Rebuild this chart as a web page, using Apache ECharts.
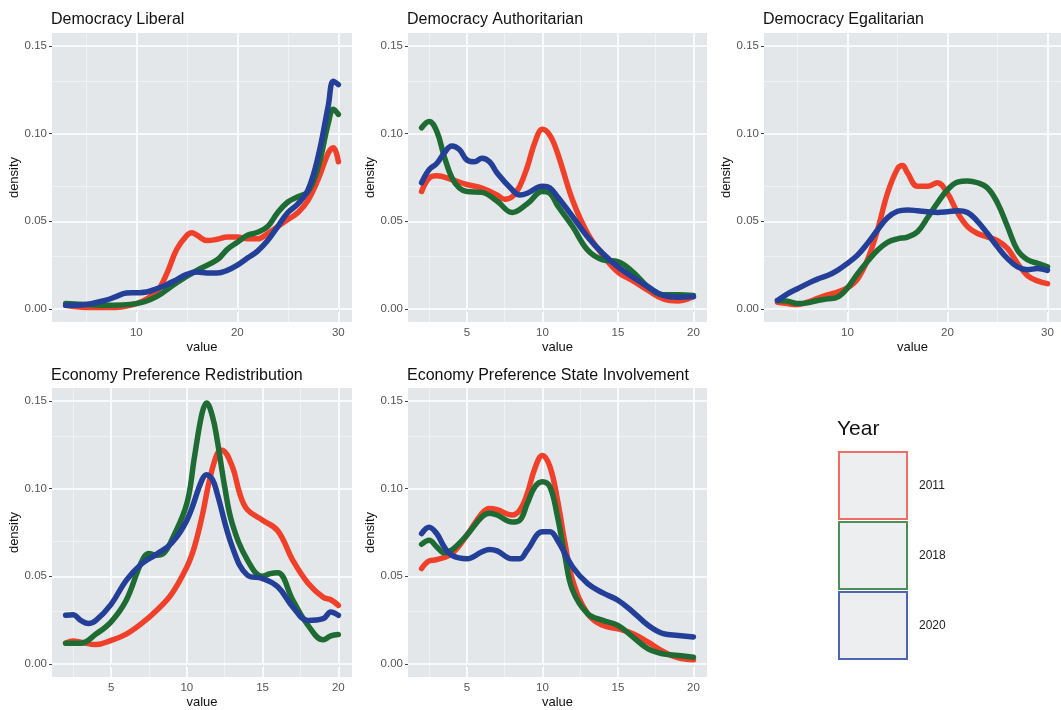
<!DOCTYPE html>
<html>
<head>
<meta charset="utf-8">
<script src="https://cdn.jsdelivr.net/npm/echarts@6/dist/echarts.min.js"></script>
<style>
html,body{margin:0;padding:0;background:#fff;}
#chart{width:1061px;height:710px;}
</style>
</head>
<body>
<div id="chart"></div>
<script>
// ---- Data ----
const years = ['2011', '2018', '2020'];
const panelTitles = ['Democracy Liberal', 'Democracy Authoritarian', 'Democracy Egalitarian',
  'Economy Preference Redistribution', 'Economy Preference State Involvement'];
const yTicks = [0, 0.05, 0.10, 0.15];
const yMinor = [0.025, 0.075, 0.125];
const xTicks30 = [10, 20, 30];
const xMinor30 = [5, 15, 25];
const xTicks20 = [5, 10, 15, 20];
const xMinor20 = [2.5, 7.5, 12.5, 17.5];

// Democracy Liberal
const liberal2011 = [[3,0.002],[5,0.0008],[7,0.0008],[10,0.003],[12,0.010],[13,0.020],[14,0.034],[15,0.042],[15.5,0.0435],[16,0.042],[17,0.039],[18,0.0397],[19,0.041],[20,0.041],[21,0.040],[22,0.040],[23,0.043],[24,0.047],[25,0.051],[26,0.055],[27,0.062],[28,0.074],[29,0.089],[29.5,0.092],[30,0.084]];
const liberal2018 = [[3,0.003],[5,0.0025],[7,0.002],[10,0.003],[12,0.007],[14,0.015],[16,0.022],[18,0.028],[19,0.034],[20,0.038],[21,0.042],[22,0.0437],[23,0.047],[24,0.055],[25,0.061],[26,0.064],[27,0.067],[28,0.081],[29,0.106],[29.5,0.114],[30,0.111]];
const liberal2020 = [[3,0.002],[5,0.0025],[7,0.005],[8,0.007],[9,0.009],[10,0.0092],[11,0.0096],[12,0.0115],[13,0.0138],[14,0.0167],[15,0.0197],[16,0.021],[17,0.0205],[18,0.0205],[19,0.022],[20,0.025],[21,0.029],[22,0.033],[23,0.039],[24,0.047],[25,0.055],[26,0.060],[27,0.068],[28,0.087],[29,0.116],[29.5,0.130],[30,0.128]];

// Democracy Authoritarian
const author2011 = [[2,0.067],[2.5,0.0747],[3,0.076],[4,0.0738],[5,0.071],[6,0.069],[7,0.065],[7.5,0.0626],[8,0.064],[8.5,0.070],[9,0.081],[9.5,0.095],[10,0.1025],[10.5,0.099],[11,0.089],[12,0.062],[13,0.043],[14,0.0307],[15,0.021],[16,0.016],[17,0.0105],[18,0.0057],[19,0.0045],[20,0.007]];
const author2018 = [[2,0.1034],[2.5,0.107],[3,0.1015],[3.5,0.087],[4,0.075],[4.5,0.069],[5,0.067],[6,0.0665],[7,0.0615],[8,0.055],[9,0.060],[10,0.067],[10.5,0.066],[11,0.059],[12,0.047],[13,0.0335],[14,0.028],[15,0.027],[16,0.021],[17,0.0125],[18,0.008],[19,0.008],[20,0.0077]];
const author2020 = [[2,0.072],[2.5,0.0795],[3,0.083],[3.5,0.089],[4,0.093],[4.5,0.091],[5,0.085],[5.5,0.084],[6,0.086],[6.5,0.084],[7,0.0776],[8,0.068],[8.5,0.065],[9,0.066],[10,0.070],[10.5,0.069],[11,0.064],[12,0.0527],[13,0.041],[14,0.0316],[15,0.024],[16,0.018],[17,0.0125],[18,0.0077],[19,0.0067],[20,0.007]];

// Democracy Egalitarian
const egal2011 = [[3,0.0038],[4,0.003],[5,0.0025],[6,0.0038],[7,0.006],[8,0.008],[9,0.0096],[10,0.012],[11,0.017],[12,0.028],[13,0.045],[14,0.066],[15,0.080],[15.5,0.0818],[16,0.0776],[17,0.070],[18,0.070],[19,0.072],[20,0.066],[21,0.055],[22,0.047],[23,0.043],[24,0.041],[25,0.039],[26,0.0345],[27,0.026],[28,0.019],[29,0.016],[30,0.0144]];
const egal2018 = [[3,0.0048],[4,0.0044],[5,0.003],[6,0.0034],[7,0.0048],[8,0.0057],[9,0.0067],[10,0.012],[11,0.020],[12,0.027],[13,0.0335],[14,0.038],[15,0.040],[16,0.041],[17,0.044],[18,0.052],[19,0.0605],[20,0.068],[21,0.0724],[22,0.073],[23,0.072],[24,0.069],[25,0.0605],[26,0.047],[27,0.0335],[28,0.028],[29,0.026],[30,0.024]];
const egal2020 = [[3,0.0048],[4,0.0086],[5,0.0115],[6,0.0144],[7,0.017],[8,0.019],[9,0.022],[10,0.026],[11,0.0307],[12,0.0374],[13,0.045],[14,0.052],[15,0.0557],[16,0.0565],[17,0.056],[18,0.0554],[19,0.055],[20,0.0554],[21,0.056],[22,0.055],[23,0.050],[24,0.043],[25,0.0354],[26,0.0287],[27,0.024],[28,0.0224],[29,0.023],[30,0.022]];

// Economy Preference Redistribution
const redis2011 = [[2,0.0118],[2.5,0.013],[3,0.0124],[4,0.011],[5,0.0134],[6,0.017],[7,0.023],[8,0.0305],[9,0.040],[10,0.0553],[10.5,0.0668],[11,0.084],[11.5,0.105],[12,0.120],[12.3,0.122],[13,0.1126],[13.5,0.097],[14,0.088],[15,0.082],[16,0.076],[17,0.059],[18,0.046],[19,0.038],[19.5,0.0366],[20,0.0334]];
const redis2018 = [[2,0.0118],[3,0.0118],[4,0.017],[5,0.024],[6,0.0363],[7,0.058],[7.5,0.063],[8,0.062],[8.5,0.0634],[9,0.0706],[10,0.0916],[10.5,0.118],[11,0.143],[11.3,0.149],[11.7,0.141],[12,0.128],[12.5,0.101],[13,0.080],[14,0.0592],[15,0.050],[15.5,0.0515],[16,0.052],[17,0.0363],[18,0.022],[19,0.0137],[19.5,0.016],[20,0.0168]];
const redis2020 = [[2,0.0277],[2.5,0.028],[3,0.0248],[3.5,0.023],[4,0.0248],[5,0.034],[6,0.0477],[7,0.057],[8,0.0626],[9,0.069],[10,0.082],[11,0.105],[11.3,0.108],[11.7,0.105],[12,0.0973],[13,0.0668],[14,0.0506],[15,0.0487],[16,0.044],[17,0.0324],[18,0.0248],[19,0.0258],[19.5,0.0296],[20,0.0277]];

// Economy Preference State Involvement
const state2011 = [[2,0.0544],[2.5,0.0588],[3,0.0595],[4,0.063],[5,0.0735],[6,0.086],[6.5,0.0887],[7,0.088],[8,0.085],[8.5,0.0878],[9,0.0973],[9.5,0.1116],[10,0.119],[10.5,0.1126],[11,0.0935],[11.5,0.0687],[12,0.0477],[13,0.0286],[14,0.022],[15,0.020],[16,0.0172],[17,0.0124],[18,0.0071],[19,0.0034],[20,0.0023]];
const state2018 = [[2,0.0683],[2.5,0.0706],[3,0.0668],[3.5,0.0634],[4,0.065],[5,0.0735],[6,0.084],[6.5,0.086],[7,0.085],[8,0.081],[8.5,0.082],[9,0.0916],[9.5,0.101],[10,0.104],[10.5,0.101],[11,0.084],[11.5,0.061],[12,0.042],[13,0.0286],[14,0.0248],[15,0.022],[16,0.0153],[17,0.0086],[18,0.0057],[19,0.0048],[20,0.0038]];
const state2020 = [[2,0.0744],[2.5,0.078],[3,0.0744],[3.5,0.0668],[4,0.062],[5,0.060],[6,0.064],[6.5,0.0653],[7,0.0645],[8,0.060],[8.5,0.060],[9,0.065],[10,0.0754],[10.5,0.0754],[11,0.0706],[12,0.0553],[13,0.0458],[14,0.0405],[15,0.0363],[16,0.0296],[17,0.022],[18,0.0172],[19,0.0162],[20,0.0153]];

const panelSeries = [
  [liberal2011, liberal2018, liberal2020],
  [author2011, author2018, author2020],
  [egal2011, egal2018, egal2020],
  [redis2011, redis2018, redis2020],
  [state2011, state2018, state2020]
];

// ---- Style / layout ----
const lineColors = ['#F0402A', '#1E6B34', '#243F98'];
const legendBorders = ['#F26B66', '#4E8E58', '#4A66B4'];
const FONT = '"Liberation Sans", Arial, Helvetica, sans-serif';
const panelBg = '#E4E7E9';
const grids = [
  {left: 52,  top: 33,  width: 300, height: 289},
  {left: 408, top: 33,  width: 299, height: 289},
  {left: 764, top: 33,  width: 297, height: 289},
  {left: 52,  top: 388, width: 300, height: 290},
  {left: 408, top: 388, width: 299, height: 290}
];
const xRanges = [[1.65, 31.35], [1.1, 20.9], [1.65, 31.35], [1.1, 20.9], [1.1, 20.9]];
const xTickSets = [xTicks30, xTicks20, xTicks30, xTicks20, xTicks20];
const xMinorSets = [xMinor30, xMinor20, xMinor30, xMinor20, xMinor20];
const titleTops = [12, 12, 12, 368, 368];

const option = {
  animation: false,
  backgroundColor: '#ffffff',
  title: panelTitles.map((t, i) => ({
    text: t, left: grids[i].left - 1, top: titleTops[i], padding: 0,
    textStyle: {fontFamily: FONT, fontSize: 16, fontWeight: 'normal', color: '#111'}
  })).concat([{
    text: 'Year', left: 837, top: 419, padding: 0,
    textStyle: {fontFamily: FONT, fontSize: 21, fontWeight: 'normal', color: '#111'}
  }]),
  legend: {
    orient: 'vertical', left: 838, top: 451, padding: 0,
    itemWidth: 68, itemHeight: 67, itemGap: 1,
    selectedMode: false,
    data: years.map((y, i) => ({
      name: y, icon: 'rect',
      itemStyle: {color: '#ECEEEF', borderColor: legendBorders[i], borderWidth: 2}
    })),
    textStyle: {fontFamily: FONT, fontSize: 12, color: '#222', padding: [2, 0, 0, 7]}
  },
  grid: grids.map(g => Object.assign({}, g, {show: true, backgroundColor: panelBg, borderWidth: 0, containLabel: false})),
  xAxis: grids.map((g, i) => ({
    type: 'value', gridIndex: i, min: xRanges[i][0], max: xRanges[i][1],
    name: 'value', nameLocation: 'middle', nameGap: 19,
    nameTextStyle: {fontFamily: FONT, fontSize: 13, color: '#111'},
    axisLine: {show: false},
    axisTick: {show: true, length: 3, customValues: xTickSets[i], lineStyle: {color: '#444', width: 1}},
    axisLabel: {customValues: xTickSets[i], margin: 5, fontFamily: FONT, fontSize: 11.5, color: '#555'},
    splitLine: {show: false}
  })),
  yAxis: grids.map((g, i) => ({
    type: 'value', gridIndex: i, min: -0.0075, max: 0.1575,
    name: 'density', nameLocation: 'middle', nameGap: 30,
    nameTextStyle: {fontFamily: FONT, fontSize: 13, color: '#111'},
    axisLine: {show: false},
    axisTick: {show: true, length: 3, customValues: yTicks, lineStyle: {color: '#444', width: 1}},
    axisLabel: {customValues: yTicks, margin: 5, fontFamily: FONT, fontSize: 11.5, color: '#555',
      formatter: v => v.toFixed(2)},
    splitLine: {show: false}
  })),
  series: []
};

panelSeries.forEach((sets, p) => {
  // grid lines (minor then major) drawn through the axes via markLine
  const minorData = xMinorSets[p].map(v => ({xAxis: v})).concat(yMinor.map(v => ({yAxis: v})));
  const majorData = xTickSets[p].map(v => ({xAxis: v})).concat(yTicks.map(v => ({yAxis: v})));
  option.series.push({
    type: 'line', xAxisIndex: p, yAxisIndex: p, data: [], silent: true,
    markLine: {silent: true, z: 1, symbol: 'none', animation: false, label: {show: false},
      lineStyle: {color: '#F3F4F5', width: 0.8, type: 'solid'}, data: minorData}
  });
  option.series.push({
    type: 'line', xAxisIndex: p, yAxisIndex: p, data: [], silent: true,
    markLine: {silent: true, z: 1, symbol: 'none', animation: false, label: {show: false},
      lineStyle: {color: '#FFFFFF', width: 1.6, type: 'solid'}, data: majorData}
  });
  sets.forEach((d, k) => {
    option.series.push({
      name: years[k], type: 'line', xAxisIndex: p, yAxisIndex: p, z: 3 + k,
      data: d, smooth: 0.4, showSymbol: false, symbol: 'none',
      lineStyle: {color: lineColors[k], width: 5.5, cap: 'round', join: 'round'},
      itemStyle: {color: lineColors[k]}
    });
  });
});

const chart = echarts.init(document.getElementById('chart'), null, {renderer: 'canvas'});
chart.setOption(option);
</script>
</body>
</html>
